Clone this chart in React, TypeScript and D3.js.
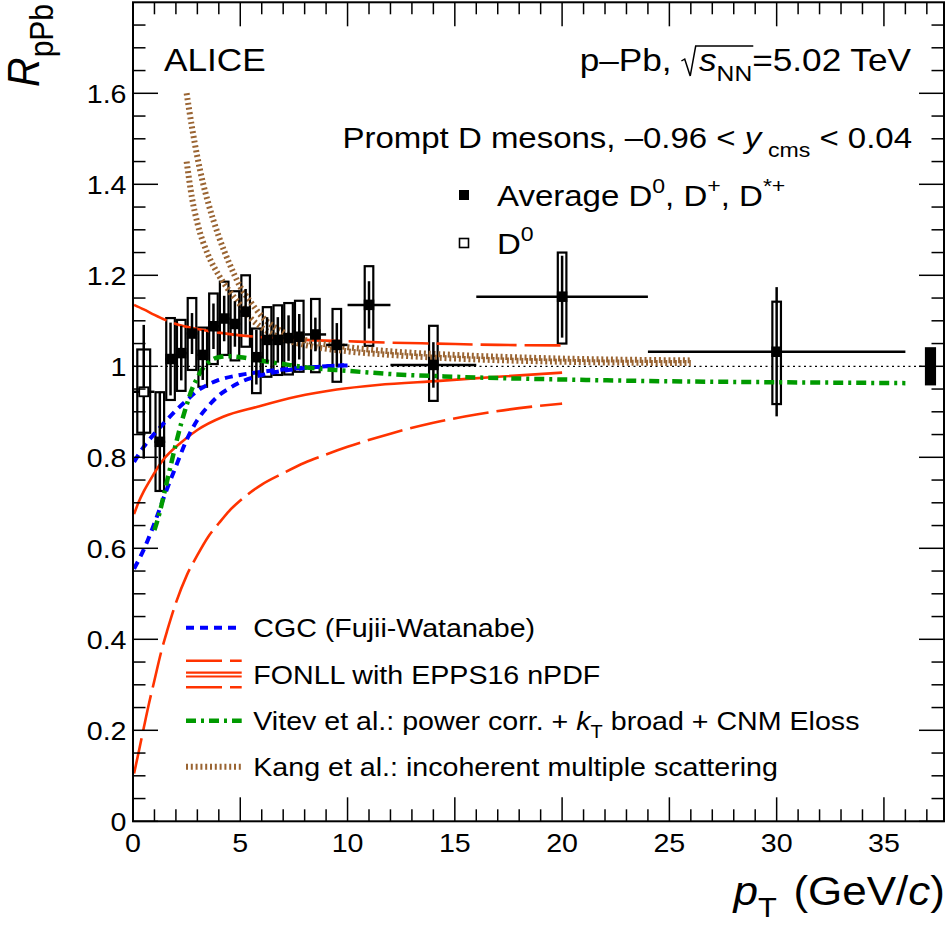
import { useEffect, useRef } from 'react'
import * as d3 from 'd3'

const W = 950
const H = 931
const FONT = '"Liberation Sans", Arial, Helvetica, sans-serif'
const SX = 1.1 // glyphs in the reference are a little wider than tall

// averaged D0, D+, D*+ (filled squares)
const avgPt = [1.25, 1.75, 2.25, 2.75, 3.25, 3.75, 4.25, 4.75, 5.25, 5.75, 6.25, 6.75, 7.25, 7.75, 8.5, 9.5, 11, 14, 20, 30]
const avgLo = [1, 1.5, 2, 2.5, 3, 3.5, 4, 4.5, 5, 5.5, 6, 6.5, 7, 7.5, 8, 9, 10, 12, 16, 24]
const avgHi = [1.5, 2, 2.5, 3, 3.5, 4, 4.5, 5, 5.5, 6, 6.5, 7, 7.5, 8, 9, 10, 12, 16, 24, 36]
const avgVal = [0.834, 1.016, 1.029, 1.072, 1.025, 1.088, 1.105, 1.093, 1.12, 1.02, 1.058, 1.058, 1.062, 1.065, 1.07, 1.047, 1.135, 1.003, 1.153, 1.032]
const avgStat = [0.11, 0.08, 0.06, 0.045, 0.055, 0.05, 0.05, 0.05, 0.05, 0.06, 0.05, 0.05, 0.05, 0.05, 0.037, 0.048, 0.052, 0.05, 0.09, 0.142]
const avgSysLo = [0.726, 0.926, 0.946, 0.992, 0.955, 1.005, 1.025, 1.013, 1.043, 0.941, 0.977, 0.981, 0.982, 0.988, 0.987, 0.966, 1.045, 0.924, 1.05, 0.917]
const avgSysHi = [0.943, 1.106, 1.102, 1.15, 1.085, 1.16, 1.186, 1.165, 1.2, 1.083, 1.13, 1.134, 1.139, 1.144, 1.148, 1.126, 1.22, 1.089, 1.25, 1.142]

// D0 only (open square)
const d0Pt = [0.5]
const d0Lo = [0]
const d0Hi = [1]
const d0Val = [0.944]
const d0Stat = [0.147]
const d0SysLo = [0.854]
const d0SysHi = [1.037]

const normPt = 37.17
const normUnc = 0.042

// models
const cgcUpper: [number, number][] = [[0.05, 0.79], [0.5, 0.823], [1, 0.852], [1.5, 0.878], [2, 0.903], [2.5, 0.925], [3, 0.946], [3.5, 0.96], [4, 0.97], [5, 0.981], [6, 0.988], [7, 0.993], [8, 0.997], [9, 1.0], [10, 1.003]]
const cgcLower: [number, number][] = [[0.05, 0.555], [0.5, 0.597], [1, 0.655], [1.5, 0.72], [2, 0.78], [2.5, 0.838], [3, 0.882], [3.5, 0.912], [4, 0.936], [4.5, 0.952], [5, 0.965], [6, 0.981], [7, 0.99], [8, 0.996], [9, 1.0], [10, 1.002]]
const fonllUpper: [number, number][] = [[0.05, 1.135], [0.5, 1.125], [1, 1.113], [1.5, 1.102], [2, 1.093], [3, 1.082], [4, 1.074], [5, 1.068], [6, 1.064], [8, 1.058], [10, 1.055], [12, 1.052], [14, 1.05], [17, 1.047], [20, 1.046]]
const fonllMid: [number, number][] = [[0.05, 0.675], [0.25, 0.7], [0.5, 0.725], [0.8, 0.75], [1.4, 0.794], [2.2, 0.831], [3, 0.86], [4.2, 0.889], [5.8, 0.911], [7.6, 0.933], [9.5, 0.949], [11.4, 0.959], [14.3, 0.968], [17, 0.977], [20, 0.986]]
const fonllLower: [number, number][] = [[0.05, 0.105], [0.3, 0.16], [0.5, 0.205], [0.75, 0.26], [1, 0.31], [1.3, 0.37], [1.6, 0.42], [2, 0.48], [2.5, 0.54], [3, 0.585], [3.5, 0.625], [4, 0.655], [4.5, 0.683], [5, 0.705], [6, 0.74], [7, 0.765], [8, 0.788], [9, 0.806], [10, 0.823], [12, 0.852], [14, 0.876], [16, 0.894], [18, 0.908], [20, 0.918]]
const vitev: [number, number][] = [[1, 0.64], [1.25, 0.68], [1.5, 0.73], [1.75, 0.78], [2, 0.83], [2.25, 0.875], [2.5, 0.915], [2.75, 0.95], [3, 0.975], [3.25, 0.995], [3.5, 1.008], [4, 1.02], [4.5, 1.022], [5, 1.02], [6, 1.012], [7, 1.005], [8, 0.998], [10, 0.99], [12, 0.983], [15, 0.977], [20, 0.971], [25, 0.967], [30, 0.965], [36, 0.963]]
const kangUpper: [number, number][] = [[2.5, 1.6], [2.75, 1.525], [3, 1.46], [3.25, 1.405], [3.5, 1.36], [4, 1.285], [4.5, 1.225], [5, 1.175], [5.5, 1.14], [6, 1.11], [7, 1.075], [8, 1.058], [10, 1.042], [12, 1.033], [15, 1.025], [20, 1.017], [26, 1.013]]
const kangLower: [number, number][] = [[2.5, 1.45], [2.75, 1.37], [3, 1.315], [3.5, 1.245], [4, 1.2], [4.5, 1.165], [5, 1.135], [5.5, 1.105], [6, 1.085], [7, 1.06], [8, 1.047], [10, 1.033], [12, 1.025], [15, 1.017], [20, 1.01], [26, 1.007]]

const xTicks = [0, 5, 10, 15, 20, 25, 30, 35]
const yTicks = [0, 0.2, 0.4, 0.6, 0.8, 1, 1.2, 1.4, 1.6]
const yTickLabels = ['0', '0.2', '0.4', '0.6', '0.8', '1', '1.2', '1.4', '1.6']

const BLUE = '#0000ff'
const RED = '#ff3300'
const GREEN = '#009a00'
const BROWN = '#9a6432'

type Part = { t: string; it?: boolean; sub?: boolean; sup?: boolean; dx?: number; fs?: number }

const App = () => {
  const ref = useRef<SVGSVGElement | null>(null)

  useEffect(() => {
    const svg = d3.select(ref.current)
    svg.selectAll('*').remove()

    const x = d3.scaleLinear().domain([0, 37.8]).range([133, 944])
    const y = d3.scaleLinear().domain([0, 1.8]).range([821.3, 2.3])

    const text = (px: number, py: number, parts: Part[], fs: number, anchor = 'start', rot = false) => {
      const g = svg.append('g').attr('transform', rot
        ? `translate(${px},${py}) rotate(-90) scale(1,${SX})`
        : `translate(${px},${py}) scale(${SX},1)`)
      const t = g.append('text').attr('font-family', FONT).attr('font-size', fs)
        .attr('text-anchor', anchor).attr('fill', '#000')
      let shift = 0
      parts.forEach(p => {
        const target = p.sub ? fs * 0.3 : p.sup ? -fs * 0.42 : 0
        const ts = t.append('tspan').text(p.t).attr('dy', target - shift)
        shift = target
        if (p.it) ts.attr('font-style', 'italic')
        if (p.sub || p.sup) ts.attr('font-size', p.fs ?? fs * 0.7)
        if (p.dx) ts.attr('dx', p.dx)
      })
      return { g, t }
    }

    // y = 1 reference
    svg.append('line')
      .attr('x1', x(0)).attr('x2', x(36.9)).attr('y1', y(1)).attr('y2', y(1))
      .attr('stroke', '#000').attr('stroke-width', 1.2).attr('stroke-dasharray', '2 3.5')

    // systematic boxes
    const boxes = (pt: number[], lo: number[], hi: number[], hw: number) => {
      svg.append('g').selectAll('rect').data(pt).enter().append('rect')
        .attr('x', d => x(d - hw)).attr('width', d => x(d + hw) - x(d - hw))
        .attr('y', (_, i) => y(hi[i])).attr('height', (_, i) => y(lo[i]) - y(hi[i]))
        .attr('fill', 'none').attr('stroke', '#000').attr('stroke-width', 2.2)
    }
    boxes(avgPt, avgSysLo, avgSysHi, 0.2)
    boxes(d0Pt, d0SysLo, d0SysHi, 0.3)

    // normalisation uncertainty
    svg.append('rect')
      .attr('x', x(normPt - 0.26)).attr('width', x(normPt + 0.26) - x(normPt - 0.26))
      .attr('y', y(1 + normUnc)).attr('height', y(1 - normUnc) - y(1 + normUnc))
      .attr('fill', '#000')

    // models
    const line = d3.line<[number, number]>().x(d => x(d[0])).y(d => y(d[1])).curve(d3.curveMonotoneX)
    const model = (data: [number, number][], color: string, width: number, dash: string) => {
      svg.append('path').attr('d', line(data)).attr('fill', 'none')
        .attr('stroke', color).attr('stroke-width', width).attr('stroke-dasharray', dash)
    }
    model(fonllLower, RED, 2.6, '36 8')
    model(fonllMid, RED, 2.6, 'none')
    model(fonllUpper, RED, 2.6, '36 8')
    model(cgcUpper, BLUE, 4, '8 6')
    model(cgcLower, BLUE, 4, '8 6')
    model(vitev, GREEN, 4.5, '10 5 3 5')
    model(kangUpper, BROWN, 6, '2 2.8')
    model(kangLower, BROWN, 6, '2 2.8')

    // error bars and markers
    const points = (pt: number[], lo: number[], hi: number[], val: number[], stat: number[], open: boolean) => {
      const g = svg.append('g').attr('stroke', '#000').attr('stroke-width', 2.5)
      g.selectAll('line.h').data(pt).enter().append('line')
        .attr('x1', (_, i) => x(lo[i])).attr('x2', (_, i) => x(hi[i]))
        .attr('y1', (_, i) => y(val[i])).attr('y2', (_, i) => y(val[i]))
      g.selectAll('line.v').data(pt).enter().append('line')
        .attr('x1', d => x(d)).attr('x2', d => x(d))
        .attr('y1', (_, i) => y(val[i] + stat[i])).attr('y2', (_, i) => y(val[i] - stat[i]))
      const s = open ? 9 : 10.5
      g.selectAll('rect').data(pt).enter().append('rect')
        .attr('x', d => x(d) - s / 2).attr('y', (_, i) => y(val[i]) - s / 2)
        .attr('width', s).attr('height', s)
        .attr('fill', open ? '#fff' : '#000').attr('stroke-width', open ? 1.8 : 0)
    }
    points(d0Pt, d0Lo, d0Hi, d0Val, d0Stat, true)
    points(avgPt, avgLo, avgHi, avgVal, avgStat, false)

    // frame and ticks
    const frame = svg.append('g').attr('stroke', '#000')
    frame.append('rect').attr('x', 133).attr('y', 2.3).attr('width', 944 - 133).attr('height', 821.3 - 2.3)
      .attr('fill', 'none').attr('stroke-width', 2)
    const xMinor = d3.range(0, 38, 1)
    xMinor.forEach(v => {
      const len = v % 5 === 0 ? 24 : 12
      frame.append('line').attr('x1', x(v)).attr('x2', x(v)).attr('y1', 821.3).attr('y2', 821.3 - len).attr('stroke-width', 1.5)
      frame.append('line').attr('x1', x(v)).attr('x2', x(v)).attr('y1', 2.3).attr('y2', 2.3 + len).attr('stroke-width', 1.5)
    })
    const yMinor = d3.range(0, 36, 1).map(i => i * 0.05)
    yMinor.forEach((v, i) => {
      const len = i % 4 === 0 ? 25 : 12.5
      frame.append('line').attr('x1', 133).attr('x2', 133 + len).attr('y1', y(v)).attr('y2', y(v)).attr('stroke-width', 1.5)
      frame.append('line').attr('x1', 944).attr('x2', 944 - len).attr('y1', y(v)).attr('y2', y(v)).attr('stroke-width', 1.5)
    })

    xTicks.forEach(v => text(x(v), 851.7, [{ t: String(v) }], 26, 'middle'))
    yTicks.forEach((v, i) => text(126.5, y(v) + 9.3, [{ t: yTickLabels[i] }], 26, 'end'))

    // axis titles
    text(945, 905, [{ t: 'p', it: true }, { t: 'T', sub: true }, { t: ' (GeV/', dx: 4 }, { t: 'c', it: true }, { t: ')' }], 40, 'end')
    text(39, 4, [{ t: 'R', it: true }, { t: 'pPb', sub: true, fs: 30 }], 41, 'end', true)

    // header texts
    text(164, 70.5, [{ t: 'ALICE' }], 32)
    const sq = text(911, 71, [{ t: 'p–Pb, ' }, { t: 's', it: true, dx: 16 }, { t: 'NN', sub: true }, { t: '=5.02 TeV' }], 32, 'end')
    try {
      const node = sq.t.node() as SVGTextElement
      const xs = node.getStartPositionOfChar(6).x
      const xe = node.getEndPositionOfChar(8).x
      sq.g.append('path')
        .attr('d', `M${xs - 16},${-10} L${xs - 13},${-12} L${xs - 8},${5} L${xs - 3},${-25} L${xe + 1},${-25}`)
        .attr('fill', 'none').attr('stroke', '#000').attr('stroke-width', 1.4)
    } catch (e) { /* ignore */ }
    text(912, 148, [{ t: 'Prompt D mesons, –0.96 < ' }, { t: 'y', it: true }, { t: 'cms', sub: true, dx: 6 }, { t: ' < 0.04' }], 30, 'end')

    // upper legend
    svg.append('rect').attr('x', 459).attr('y', 190).attr('width', 10).attr('height', 10).attr('fill', '#000')
    text(497, 206, [{ t: 'Average D' }, { t: '0', sup: true }, { t: ', D' }, { t: '+', sup: true }, { t: ', D' }, { t: '*+', sup: true }], 30)
    svg.append('rect').attr('x', 459.5).attr('y', 238.5).attr('width', 9).attr('height', 9)
      .attr('fill', '#fff').attr('stroke', '#000').attr('stroke-width', 1.6)
    text(497, 254, [{ t: 'D' }, { t: '0', sup: true }], 30)

    // lower legend
    const lx1 = 186
    const lx2 = 241.7
    const sample = (yy: number, color: string, width: number, dash: string) => {
      svg.append('line').attr('x1', lx1).attr('x2', lx2).attr('y1', yy).attr('y2', yy)
        .attr('stroke', color).attr('stroke-width', width).attr('stroke-dasharray', dash)
    }
    sample(627.7, BLUE, 4, '8 6')
    text(253.3, 637, [{ t: 'CGC (Fujii-Watanabe)' }], 26)
    sample(660.7, RED, 2.6, '36 8')
    sample(672.7, RED, 2.2, 'none')
    sample(676.5, RED, 2.2, 'none')
    sample(687.3, RED, 2.6, '36 8')
    text(253.3, 684, [{ t: 'FONLL with EPPS16 nPDF' }], 26)
    sample(720.7, GREEN, 4.5, '10 5 3 5')
    text(253.3, 730, [{ t: 'Vitev et al.: power corr. + ' }, { t: 'k', it: true }, { t: 'T', sub: true }, { t: ' broad + CNM Eloss' }], 26)
    sample(766.7, BROWN, 6, '2 2.8')
    text(253.3, 776, [{ t: 'Kang et al.: incoherent multiple scattering' }], 26)
  }, [])

  return (
    <svg ref={ref} width={W} height={H}
      style={{ position: 'absolute', left: 0, top: 0, background: '#fff', display: 'block' }} />
  )
}

export default App
